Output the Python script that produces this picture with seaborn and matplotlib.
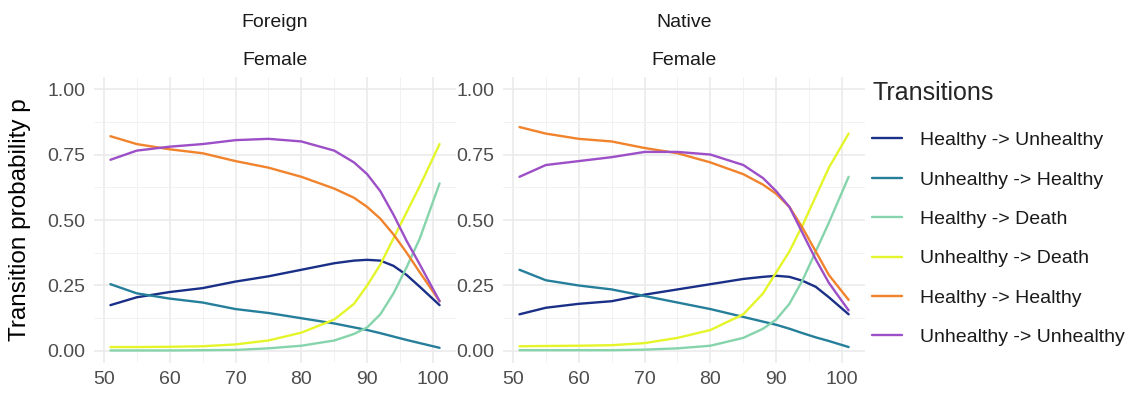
import numpy as np
import pandas as pd
import matplotlib
matplotlib.use('Agg')
import matplotlib.pyplot as plt
import seaborn as sns

# ages (common grid)
age = [51, 55, 60, 65, 70, 75, 80, 85, 88, 90, 92, 94, 96, 98, 101]

transitions = ['Healthy -> Unhealthy', 'Unhealthy -> Healthy', 'Healthy -> Death',
               'Unhealthy -> Death', 'Healthy -> Healthy', 'Unhealthy -> Unhealthy']

# Foreign, Female
foreign_hu = [0.175, 0.205, 0.225, 0.240, 0.265, 0.285, 0.310, 0.335, 0.345, 0.348, 0.345, 0.325, 0.290, 0.245, 0.175]
foreign_uh = [0.255, 0.220, 0.200, 0.185, 0.160, 0.145, 0.125, 0.105, 0.090, 0.080, 0.068, 0.055, 0.042, 0.030, 0.012]
foreign_hd = [0.002, 0.002, 0.002, 0.003, 0.004, 0.010, 0.020, 0.040, 0.065, 0.090, 0.140, 0.220, 0.320, 0.430, 0.640]
foreign_ud = [0.015, 0.015, 0.016, 0.018, 0.025, 0.040, 0.070, 0.120, 0.180, 0.250, 0.330, 0.430, 0.530, 0.630, 0.790]
foreign_hh = [0.820, 0.790, 0.770, 0.755, 0.725, 0.700, 0.665, 0.620, 0.585, 0.550, 0.505, 0.445, 0.375, 0.300, 0.190]
foreign_uu = [0.730, 0.765, 0.780, 0.790, 0.805, 0.810, 0.800, 0.765, 0.720, 0.675, 0.610, 0.520, 0.420, 0.330, 0.190]

# Native, Female
native_hu = [0.140, 0.165, 0.180, 0.190, 0.215, 0.235, 0.255, 0.275, 0.283, 0.287, 0.283, 0.268, 0.245, 0.205, 0.140]
native_uh = [0.310, 0.270, 0.250, 0.235, 0.210, 0.185, 0.160, 0.130, 0.112, 0.100, 0.085, 0.068, 0.052, 0.038, 0.015]
native_hd = [0.003, 0.003, 0.003, 0.003, 0.005, 0.010, 0.020, 0.050, 0.085, 0.120, 0.180, 0.270, 0.380, 0.490, 0.665]
native_ud = [0.018, 0.019, 0.020, 0.022, 0.030, 0.050, 0.080, 0.140, 0.220, 0.300, 0.380, 0.480, 0.590, 0.700, 0.830]
native_hh = [0.855, 0.830, 0.810, 0.800, 0.775, 0.755, 0.720, 0.675, 0.635, 0.600, 0.550, 0.470, 0.380, 0.290, 0.195]
native_uu = [0.665, 0.710, 0.725, 0.740, 0.760, 0.760, 0.750, 0.710, 0.660, 0.610, 0.550, 0.450, 0.350, 0.260, 0.155]

colors = ['#1a2f87', '#257f9b', '#86d4ab', '#e4f52a', '#f0832c', '#9c4fc6']

rows = []
for origin, series in [('Foreign', [foreign_hu, foreign_uh, foreign_hd, foreign_ud, foreign_hh, foreign_uu]),
                       ('Native', [native_hu, native_uh, native_hd, native_ud, native_hh, native_uu])]:
    for tr, vals in zip(transitions, series):
        for a, v in zip(age, vals):
            rows.append({'origin': origin, 'age': a, 'p': v, 'Transitions': tr})
df = pd.DataFrame(rows)

sns.set_style('white')
plt.rcParams['font.family'] = ['Liberation Sans', 'DejaVu Sans']

fig = plt.figure(figsize=(11.35, 3.93), dpi=100)
ax1 = fig.add_axes([0.0828, 0.0763, 0.319, 0.7277])
ax2 = fig.add_axes([0.4432, 0.0763, 0.319, 0.7277])

for ax, origin in [(ax1, 'Foreign'), (ax2, 'Native')]:
    sns.lineplot(data=df[df['origin'] == origin], x='age', y='p', hue='Transitions',
                 hue_order=transitions, palette=colors, linewidth=1.7, ax=ax, legend=(ax is ax1))
    ax.set_xlim(48.5, 103.5)
    ax.set_ylim(-0.046, 1.046)
    ax.set_xticks([50, 60, 70, 80, 90, 100])
    ax.set_xticks([55, 65, 75, 85, 95], minor=True)
    ax.set_yticks([0, 0.25, 0.5, 0.75, 1.0])
    ax.set_yticklabels(['0.00', '0.25', '0.50', '0.75', '1.00'])
    ax.set_yticks([0.125, 0.375, 0.625, 0.875], minor=True)
    ax.grid(which='major', color='#ebebeb', linewidth=1.2)
    ax.grid(which='minor', color='#f2f2f2', linewidth=0.7)
    ax.set_axisbelow(True)
    for s in ax.spines.values():
        s.set_visible(False)
    ax.tick_params(which='both', length=0, labelsize=14, labelcolor='#4d4d4d', pad=6)
    ax.set_xlabel('')
    ax.set_ylabel('')
    ax.text(0.5, 1.192, origin, transform=ax.transAxes, ha='center', va='center',
            fontsize=14, color='#1a1a1a')
    ax.text(0.5, 1.059, 'Female', transform=ax.transAxes, ha='center', va='center',
            fontsize=14, color='#1a1a1a')

ax1.set_ylabel('Transition probability p', fontsize=17.5, color='black')
ax1.yaxis.set_label_coords(-0.175, 0.5)

handles, labels = ax1.get_legend_handles_labels()
ax1.get_legend().remove()
leg = fig.legend(handles, labels, title='Transitions', loc='upper left',
                 bbox_to_anchor=(0.753, 0.838), frameon=False, fontsize=14,
                 title_fontsize=18, handlelength=1.55, handletextpad=0.9,
                 labelspacing=1.12)
leg._legend_box.align = 'left'
leg._legend_box.sep = 19
for t in leg.get_texts():
    t.set_color('#1a1a1a')

fig.savefig('out.png', dpi=100)
